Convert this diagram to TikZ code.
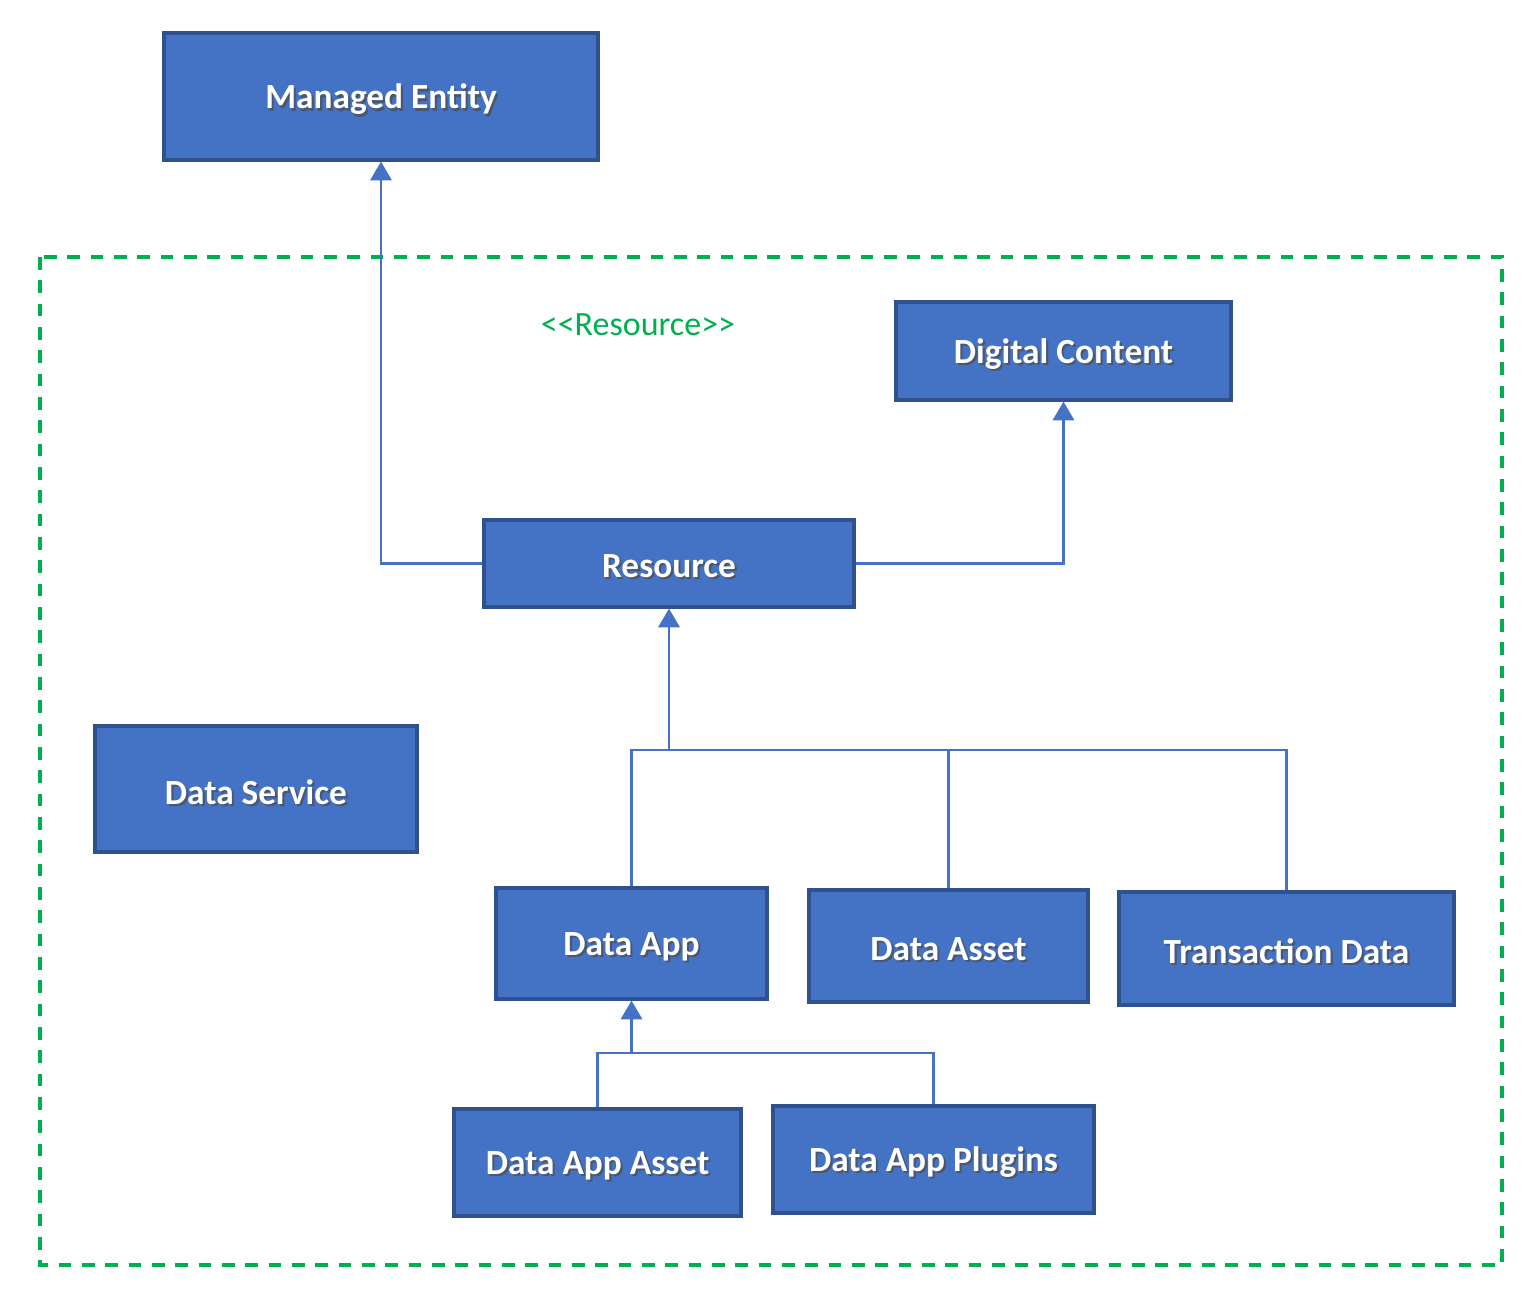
\documentclass[tikz,border=0pt]{standalone}
\usepackage{fontspec}
\setmainfont{Carlito}
\usetikzlibrary{arrows.meta}
\definecolor{boxfill}{RGB}{68,114,196}
\definecolor{boxline}{RGB}{47,82,143}
\definecolor{conncol}{RGB}{68,114,196}
\definecolor{grn}{RGB}{0,176,80}
\definecolor{shcol}{RGB}{30,45,75}
\newcommand\shtxt[1]{\raisebox{-3pt}[\height][\depth]{\rlap{\hspace{1.6pt}\raisebox{-1.6pt}{\color{shcol!80}#1}}#1}}
\tikzset{
  box/.style={draw=boxline, fill=boxfill, line width=2.4pt, text=white,
    font=\fontsize{26.5}{30}\selectfont\bfseries, inner sep=0pt},
  conn/.style={draw=conncol, line width=1.6pt},
  arr/.style={conn, -{Triangle[width=16pt,length=14pt]}},
}
\begin{document}
\begin{tikzpicture}[x=0.75pt,y=-0.75pt]
\useasboundingbox (0,0) rectangle (1539,1304);
\fill[white] (0,0) rectangle (1539,1304);
% dashed frame
\draw[grn, line width=2.6pt, dash pattern=on 9.5pt off 8pt] (40,257) rectangle (1502,1265);
\node[text=grn, font=\fontsize{25.5}{30}\selectfont] (lbl) at (638,325) {<\kern0pt<\kern0pt Resource>\kern0pt>};
% boxes
\node[box, minimum width=325.5pt, minimum height=95.25pt] (me) at (381,96.5) {\shtxt{Managed Entity}};
\node[box, minimum width=251.25pt, minimum height=73.5pt] (dc) at (1063.5,351) {\shtxt{Digital Content}};
\node[box, minimum width=277.5pt, minimum height=65.25pt] (res) at (669,563.5) {\shtxt{Resource}};
\node[box, minimum width=241.5pt, minimum height=94.5pt] (ds) at (256,789) {\shtxt{Data Service}};
\node[box, minimum width=203.25pt, minimum height=83.25pt] (da) at (631.5,943.5) {\shtxt{Data App}};
\node[box, minimum width=209.25pt, minimum height=84pt] (das) at (948.5,946) {\shtxt{Data Asset}};
\node[box, minimum width=251.25pt, minimum height=84.75pt] (td) at (1286.5,948.5) {\shtxt{Transaction Data}};
\node[box, minimum width=215.25pt, minimum height=80.25pt] (daa) at (597.5,1162.5) {\shtxt{Data App Asset}};
\node[box, minimum width=240.75pt, minimum height=80.25pt] (dap) at (933.5,1159.5) {\shtxt{Data App Plugins}};
% junctions
\coordinate (j1) at (669,750);
\coordinate (j2) at (631.5,1053);
% connectors
\draw[arr] (res.west) -| (me.south);
\draw[arr] (res.east) -| (dc.south);
\draw[arr] (j1) -- (res.south);
\draw[conn] (da.north) |- (j1);
\draw[conn] (das.north) |- (j1);
\draw[conn] (td.north) |- (j1);
\draw[arr] (j2) -- (da.south);
\draw[conn] (daa.north) |- (j2);
\draw[conn] (dap.north) |- (j2);
\end{tikzpicture}
\end{document}
